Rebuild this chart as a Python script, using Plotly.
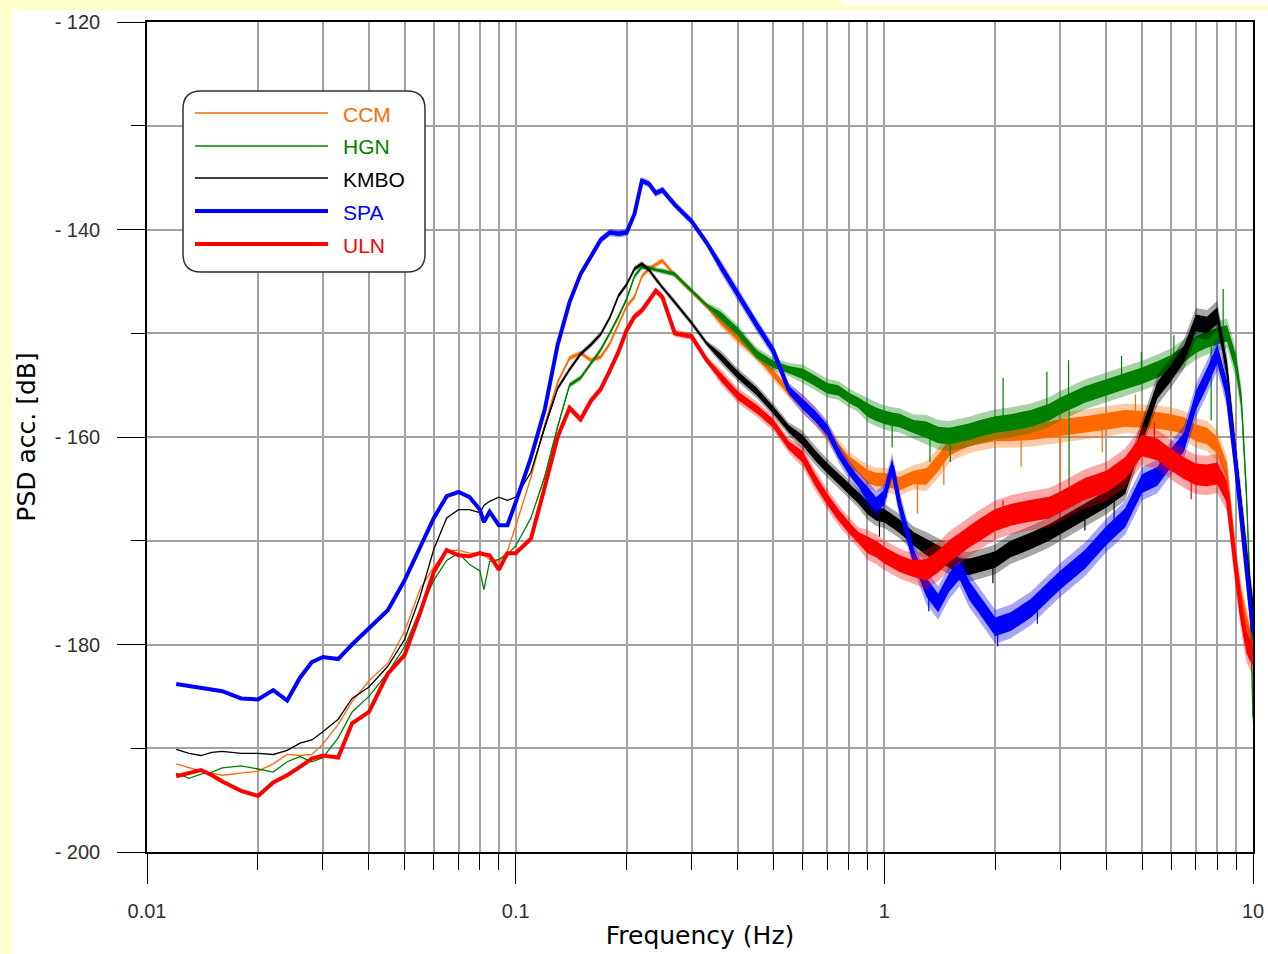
import numpy as np
import plotly.graph_objects as go

# ---------------------------------------------------------------- data
FREQ = [0.012, 0.013, 0.014, 0.015, 0.016, 0.018, 0.02, 0.022, 0.024, 0.026,
        0.028, 0.03, 0.033, 0.036, 0.04, 0.045, 0.05, 0.055, 0.06, 0.065,
        0.07, 0.075, 0.08, 0.082, 0.085, 0.09, 0.095, 0.1, 0.11, 0.12,
        0.13, 0.14, 0.15, 0.16, 0.17, 0.18, 0.19, 0.2, 0.21, 0.22,
        0.23, 0.24, 0.25, 0.27, 0.3, 0.33, 0.36, 0.4, 0.45, 0.5,
        0.55, 0.6, 0.65, 0.7, 0.75, 0.8, 0.85, 0.9, 0.95, 1.0,
        1.05, 1.1, 1.2, 1.3, 1.4, 1.5, 1.6, 1.7, 1.8, 2.0,
        2.2, 2.5, 2.8, 3.0, 3.5, 4.0, 4.5, 5.0, 5.5, 6.0,
        6.5, 7.0, 7.5, 8.0, 8.5, 9.0, 9.3, 9.6, 9.8, 10.0]

CCM = [-191.5, -191.9, -192.2, -192.4, -192.6, -192.4, -192.2, -191.5, -190.6, -190.7,
       -190.6, -189.6, -187.7, -185.5, -183.5, -181.8, -178.7, -174.7, -172.5, -171.0,
       -170.9, -171.2, -171.2, -171.4, -171.8, -172.0, -171.0, -168.6, -163.9, -158.8,
       -154.7, -152.4, -151.9, -152.6, -152.3, -151.0, -149.1, -147.4, -146.5, -144.5,
       -143.8, -143.4, -143.0, -144.4, -146.0, -147.4, -148.8, -150.4, -152.0, -153.9,
       -155.6, -156.8, -158.0, -159.6, -161.1, -162.3, -163.0, -163.8, -164.1, -164.1,
       -164.3, -164.5, -163.9, -163.8, -162.5, -161.0, -160.5, -160.1, -159.9, -159.6,
       -159.6, -159.5, -159.3, -159.1, -158.8, -158.5, -158.2, -158.3, -158.4, -158.6,
       -158.9, -159.6, -159.9, -160.8, -163.3, -172.0, -175.5, -177.8, -179.0, -179.8]

HGN = [-192.4, -192.9, -192.5, -192.3, -191.9, -191.7, -192.0, -192.3, -191.3, -190.8,
       -191.3, -190.9, -189.0, -186.5, -185.0, -182.7, -180.2, -176.7, -173.8, -171.9,
       -171.2, -172.3, -172.9, -174.7, -172.0, -171.8, -171.3, -170.5, -167.8, -163.8,
       -159.0, -155.0, -154.3, -152.9, -151.6, -150.0, -148.4, -146.7, -144.5, -143.6,
       -143.7, -143.9, -144.0, -144.3, -145.9, -147.3, -148.3, -149.8, -152.0, -153.0,
       -153.5, -153.9, -154.6, -155.3, -155.5, -156.2, -156.7, -157.4, -157.8, -158.1,
       -158.3, -158.4, -159.0, -159.3, -159.8, -159.9, -159.7, -159.5, -159.2, -158.8,
       -158.6, -158.2, -157.6, -157.0, -155.9, -155.2, -154.6, -154.1, -153.5, -152.9,
       -152.0, -151.1, -150.6, -150.3, -150.0, -153.0, -156.5, -165.5, -174.0, -187.0]

KMBO = [-190.1, -190.5, -190.7, -190.4, -190.3, -190.5, -190.5, -190.6, -190.2, -189.5,
        -189.2, -188.4, -187.2, -185.2, -184.1, -182.1, -179.5, -175.4, -170.8, -167.8,
        -167.0, -167.0, -167.3, -166.6, -166.2, -165.8, -166.1, -165.8, -163.4, -159.0,
        -155.3, -153.5, -152.0, -151.1, -150.1, -148.5, -146.4, -145.3, -143.8, -143.3,
        -143.9, -144.8, -145.6, -147.0, -149.0, -151.0, -152.3, -154.0, -155.6, -157.4,
        -159.2, -160.3, -161.8, -163.0, -164.0, -165.0, -165.9, -166.8, -167.4, -167.6,
        -168.1, -168.6, -169.8, -170.6, -171.2, -171.8, -172.5, -172.5, -172.3, -171.8,
        -170.8, -170.0, -169.2, -168.6, -167.2, -166.0, -164.7, -159.8, -155.5, -153.8,
        -152.0, -149.0, -149.2, -148.3, -153.5, -162.0, -166.8, -171.5, -174.0, -176.5]

SPA = [-183.8, -184.0, -184.1, -184.3, -184.5, -185.2, -185.3, -184.4, -185.4, -183.2,
       -181.7, -181.2, -181.4, -180.0, -178.5, -176.7, -173.8, -170.7, -167.8, -165.7,
       -165.3, -165.8, -167.0, -168.2, -167.2, -168.5, -168.5, -166.3, -162.0, -157.3,
       -151.1, -147.0, -144.3, -142.6, -141.0, -140.3, -140.4, -140.3, -138.5, -135.3,
       -135.6, -136.5, -136.2, -137.6, -139.2, -141.3, -143.6, -146.2, -149.2, -151.7,
       -155.4, -156.8, -158.0, -159.3, -161.5, -163.1, -164.3, -165.5, -166.5, -165.8,
       -162.8, -166.5, -171.5, -174.5, -176.0, -174.0, -172.8, -174.8, -176.0, -178.3,
       -177.8, -176.5, -174.8, -173.8, -171.8, -169.5, -167.8, -164.5, -163.8, -162.0,
       -160.5, -156.5, -154.3, -152.0, -155.5, -163.0, -168.0, -173.0, -176.0, -178.8]

ULN = [-192.7, -192.4, -192.1, -192.6, -193.2, -194.1, -194.6, -193.3, -192.6, -191.8,
       -191.0, -190.7, -190.9, -187.6, -186.5, -182.8, -181.0, -177.0, -173.0, -170.9,
       -171.4, -171.5, -171.2, -171.3, -171.4, -172.8, -171.2, -171.2, -169.8, -164.8,
       -160.0, -157.2, -158.3, -156.5, -155.4, -153.6, -151.8, -149.7, -148.4, -147.8,
       -146.9, -145.9, -146.5, -150.0, -150.3, -152.6, -154.2, -156.0, -157.3, -158.7,
       -160.8, -161.9, -164.2, -166.0, -167.5, -168.7, -169.7, -170.4, -170.8, -171.4,
       -171.8, -172.2, -172.7, -172.8, -172.0, -171.0, -170.3, -169.6, -169.0, -168.0,
       -167.5, -167.1, -166.8, -166.3, -165.0, -164.3, -163.0, -160.8, -161.2, -162.2,
       -163.0, -163.6, -163.7, -163.5, -165.3, -173.0, -177.0, -179.8, -180.5, -181.0]

# scatter of each record (peak-to-peak, dB) over the frequency bands below
NOISE_EDGES = [0.12, 0.35, 0.6, 0.9, 1.3]
CCM_NOISE = [0.0, 0.3, 0.7, 1.0, 1.3, 1.6]
HGN_NOISE = [0.0, 0.3, 0.7, 1.0, 1.3, 1.6]
KMBO_NOISE = [0.0, 0.3, 0.7, 1.0, 1.3, 1.6]
SPA_NOISE = [0.0, 0.4, 0.7, 1.0, 1.4, 1.8]
ULN_NOISE = [0.0, 0.4, 0.8, 1.1, 1.6, 2.1]

# isolated spectral spikes: (frequency, level, spike tip)
CCM_SPIKES = [(1.23, -163.9, -167.4), (1.45, -161.8, -164.6), (2.35, -159.5, -162.9),
              (3.0, -159.1, -164.8), (3.9, -158.6, -161.5), (4.8, -158.3, -155.9)]
HGN_SPIKES = [(1.05, -158.3, -161.0), (1.33, -159.4, -162.4), (1.51, -159.9, -162.4),
              (2.10, -158.7, -154.3), (2.76, -157.7, -153.7), (3.16, -156.8, -152.6),
              (3.17, -156.8, -164.8), (4.4, -154.7, -152.2), (4.98, -154.1, -151.8),
              (6.1, -152.8, -150.2), (7.7, -150.5, -158.4), (8.3, -150.2, -145.7)]
KMBO_SPIKES = [(0.97, -167.5, -169.6), (1.97, -171.9, -174.1), (3.5, -167.2, -169.0),
               (4.2, -165.5, -168.0)]
SPA_SPIKES = [(1.32, -174.6, -176.8), (2.03, -178.3, -180.2), (2.6, -176.0, -178.0),
              (5.6, -163.6, -161.0)]
ULN_SPIKES = [(2.1, -167.7, -166.1), (5.4, -161.1, -158.6), (6.8, -163.5, -166.0)]

NAMES = ["CCM", "HGN", "KMBO", "SPA", "ULN"]

# ---------------------------------------------------------------- style
COLORS = {"CCM": "#FF6A00", "HGN": "#008000", "KMBO": "#000000",
          "SPA": "#0000FF", "ULN": "#FF0000"}
HALO = {"CCM": "rgba(255,106,0,0.35)", "HGN": "rgba(0,128,0,0.35)",
        "KMBO": "rgba(0,0,0,0.35)", "SPA": "rgba(0,0,255,0.35)",
        "ULN": "rgba(255,0,0,0.35)"}
WIDTHS = {"CCM": 1.3, "HGN": 1.3, "KMBO": 1.3, "SPA": 4.0, "ULN": 4.0}
GRID = "#A2A2A2"
TICK_FONT = dict(family="Liberation Sans, Arial, sans-serif", size=20, color="#303030")
TITLE_FONT = dict(family="DejaVu Sans, Liberation Sans, sans-serif", size=25, color="#000000")

W, H = 1268, 954
PX0, PX1, PY0, PY1 = 147, 1253, 22, 852   # plot-area pixel frame


def px_x(p):
    return (p - PX0) / (PX1 - PX0)


def px_y(p):
    return (PY1 - p) / (PY1 - PY0)


series = {
    "CCM": (CCM, CCM_NOISE, CCM_SPIKES),
    "HGN": (HGN, HGN_NOISE, HGN_SPIKES),
    "KMBO": (KMBO, KMBO_NOISE, KMBO_SPIKES),
    "SPA": (SPA, SPA_NOISE, SPA_SPIKES),
    "ULN": (ULN, ULN_NOISE, ULN_SPIKES),
}

f = np.array(FREQ)
band_idx = np.digitize(f, NOISE_EDGES)


def band_trace(lv, spread, fillcolor):
    upper = lv + spread / 2
    lower = lv - spread / 2
    return go.Scatter(
        x=np.concatenate([f, f[::-1]]), y=np.concatenate([upper, lower[::-1]]),
        mode="lines", fill="toself", fillcolor=fillcolor,
        line=dict(width=0), hoverinfo="skip", showlegend=False)


fig = go.Figure()
for name in NAMES:
    level, noise, spikes = series[name]
    lv = np.array(level)
    color = COLORS[name]
    spread = np.array(noise)[band_idx]
    # soft outer fringe of the noise, then its solid core
    fig.add_trace(band_trace(lv, spread * 1.8, HALO[name]))
    fig.add_trace(band_trace(lv, spread, color))
    fig.add_trace(go.Scatter(
        x=f, y=lv, mode="lines", name=name,
        line=dict(color=color, width=WIDTHS[name]), showlegend=False))
    sx, sy = [], []
    for fs, base, tip in spikes:
        sx += [fs, fs, None]
        sy += [base, tip, None]
    fig.add_trace(go.Scatter(x=sx, y=sy, mode="lines",
                             line=dict(color=color, width=1.2),
                             hoverinfo="skip", showlegend=False))

# ---------------------------------------------------------------- page panels
shapes = [
    dict(type="rect", xref="paper", yref="paper", layer="below",
         x0=px_x(12), x1=px_x(W), y0=px_y(H), y1=px_y(10),
         fillcolor="white", line=dict(width=0)),
    dict(type="rect", xref="paper", yref="paper", layer="below",
         x0=px_x(843), x1=px_x(W), y0=px_y(5), y1=px_y(0),
         fillcolor="white", line=dict(width=0)),
]

# ---------------------------------------------------------------- legend box
LX0, LX1, LY0, LY1, LR = 183, 425, 91, 272, 18
pts = [
    ("M", (LX0 + LR, LY0)), ("L", (LX1 - LR, LY0)),
    ("Q", (LX1, LY0), (LX1, LY0 + LR)), ("L", (LX1, LY1 - LR)),
    ("Q", (LX1, LY1), (LX1 - LR, LY1)), ("L", (LX0 + LR, LY1)),
    ("Q", (LX0, LY1), (LX0, LY1 - LR)), ("L", (LX0, LY0 + LR)),
    ("Q", (LX0, LY0), (LX0 + LR, LY0)),
]
path = ""
for cmd, *coords in pts:
    path += cmd + " " + " ".join(f"{px_x(cx):.5f},{px_y(cy):.5f}" for cx, cy in coords) + " "
path += "Z"
shapes.append(dict(type="path", xref="paper", yref="paper", layer="above",
                   path=path, fillcolor="white", line=dict(color="#303030", width=1.5)))

ROW_Y = [113, 146, 178, 211, 244]
annotations = []
for name, ry in zip(NAMES, ROW_Y):
    shapes.append(dict(type="line", xref="paper", yref="paper", layer="above",
                       x0=px_x(195), x1=px_x(328), y0=px_y(ry), y1=px_y(ry),
                       line=dict(color=COLORS[name], width=WIDTHS[name])))
    annotations.append(dict(xref="paper", yref="paper", x=px_x(341), y=px_y(ry),
                            xanchor="left", yanchor="middle", showarrow=False,
                            text=name, yshift=-1,
                            font=dict(family="Liberation Sans, Arial, sans-serif",
                                      size=21, color=COLORS[name])))

# ---------------------------------------------------------------- axes
minor_x = [m * 10.0 ** e for e in (-2, -1, 0) for m in range(2, 10)]
y_major = [-200, -180, -160, -140, -120]

fig.update_layout(
    width=W, height=H,
    margin=dict(l=PX0, r=W - PX1, t=PY0, b=H - PY1, autoexpand=False),
    paper_bgcolor="#FFFFCC", plot_bgcolor="white",
    showlegend=False, shapes=shapes, annotations=annotations,
    xaxis=dict(
        type="log", range=[-2, 1],
        tickmode="array", tickvals=[0.01, 0.1, 1, 10], ticktext=["0.01", "0.1", "1", "10"],
        ticks="outside", ticklen=30, tickwidth=1, tickcolor="black",
        showline=True, linecolor="black", linewidth=1.5, mirror=True,
        showgrid=True, gridcolor=GRID, gridwidth=1.6, zeroline=False,
        minor=dict(tickmode="array", tickvals=minor_x, ticks="outside", ticklen=16,
                   tickwidth=1, tickcolor="black", showgrid=True,
                   gridcolor=GRID, gridwidth=1.6),
        tickfont=TICK_FONT, ticklabelstandoff=10,
        title=dict(text="Frequency (Hz)", font=TITLE_FONT, standoff=6),
    ),
    yaxis=dict(
        range=[-200, -120],
        tickmode="array", tickvals=y_major, ticktext=[f"- {abs(v)}" for v in y_major],
        ticks="outside", ticklen=28, tickwidth=1, tickcolor="black",
        showline=True, linecolor="black", linewidth=1.5, mirror=True,
        showgrid=True, gridcolor=GRID, gridwidth=1.6, zeroline=False,
        minor=dict(tickmode="array", tickvals=[-190, -170, -150, -130], ticks="outside",
                   ticklen=14, tickwidth=1, tickcolor="black", showgrid=True,
                   gridcolor=GRID, gridwidth=1.6),
        tickfont=TICK_FONT, ticklabelstandoff=13,
        title=dict(text="PSD acc. [dB]", font=TITLE_FONT, standoff=12),
    ),
)

fig.write_html("out.html")
